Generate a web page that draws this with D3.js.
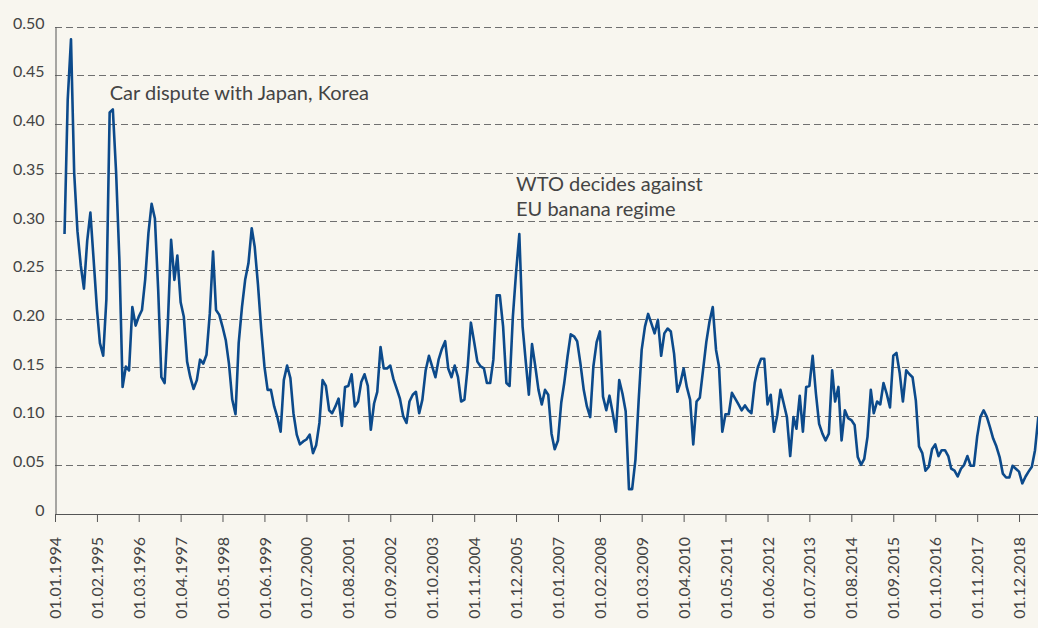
<!DOCTYPE html>
<meta charset="utf-8">
<script src="https://d3js.org/d3.v7.min.js"></script>
<style>
  body { margin: 0; background: #f8f6ef; }
  svg { display: block; font-family: Lato, "Open Sans", sans-serif; }
</style>
<div id="chart"></div>
<script>
// monthly values, first one is April 1994
const firstMonth = "01.04.1994";
const values = [
  0.287, 0.425, 0.487, 0.35, 0.29, 0.255, 0.231, 0.28, 0.309, 0.26, 0.21, 0.175,
  0.162, 0.22, 0.412, 0.415, 0.35, 0.26, 0.13, 0.151, 0.147, 0.212, 0.193, 0.202,
  0.209, 0.24, 0.288, 0.318, 0.303, 0.23, 0.14, 0.134, 0.195, 0.281, 0.24, 0.265,
  0.217, 0.202, 0.156, 0.14, 0.128, 0.137, 0.158, 0.154, 0.163, 0.205, 0.269, 0.209,
  0.204, 0.192, 0.178, 0.154, 0.117, 0.102, 0.175, 0.212, 0.24, 0.257, 0.293, 0.274,
  0.235, 0.19, 0.151, 0.127, 0.127, 0.11, 0.099, 0.084, 0.137, 0.152, 0.139, 0.103,
  0.081, 0.071, 0.074, 0.076, 0.081, 0.062, 0.07, 0.093, 0.137, 0.131, 0.106, 0.103,
  0.11, 0.118, 0.09, 0.13, 0.131, 0.143, 0.11, 0.115, 0.135, 0.143, 0.131, 0.086,
  0.113, 0.125, 0.171, 0.149, 0.149, 0.152, 0.138, 0.128, 0.118, 0.1, 0.093, 0.115,
  0.122, 0.125, 0.103, 0.117, 0.147, 0.162, 0.151, 0.14, 0.158, 0.169, 0.177, 0.149,
  0.14, 0.152, 0.14, 0.115, 0.117, 0.151, 0.196, 0.176, 0.156, 0.151, 0.149, 0.134,
  0.134, 0.158, 0.224, 0.224, 0.192, 0.134, 0.131, 0.202, 0.247, 0.287, 0.192, 0.158,
  0.122, 0.174, 0.151, 0.127, 0.112, 0.127, 0.122, 0.082, 0.066, 0.075, 0.114, 0.134,
  0.161, 0.184, 0.182, 0.177, 0.154, 0.127, 0.11, 0.099, 0.151, 0.176, 0.187, 0.12,
  0.106, 0.121, 0.103, 0.084, 0.137, 0.123, 0.105, 0.025, 0.025, 0.055, 0.117, 0.168,
  0.192, 0.205, 0.195, 0.185, 0.199, 0.162, 0.185, 0.19, 0.187, 0.164, 0.125, 0.134,
  0.149, 0.13, 0.117, 0.071, 0.115, 0.119, 0.147, 0.176, 0.197, 0.212, 0.168, 0.151,
  0.084, 0.102, 0.102, 0.124, 0.118, 0.112, 0.106, 0.111, 0.106, 0.103, 0.134, 0.15,
  0.159, 0.159, 0.112, 0.122, 0.084, 0.101, 0.127, 0.113, 0.099, 0.059, 0.099, 0.087,
  0.121, 0.084, 0.13, 0.131, 0.162, 0.123, 0.092, 0.082, 0.075, 0.082, 0.147, 0.115,
  0.13, 0.075, 0.106, 0.098, 0.096, 0.091, 0.058, 0.05, 0.056, 0.079, 0.127, 0.103,
  0.115, 0.112, 0.134, 0.123, 0.109, 0.162, 0.165, 0.144, 0.115, 0.147, 0.143, 0.14,
  0.116, 0.069, 0.062, 0.044, 0.048, 0.066, 0.071, 0.059, 0.065, 0.065, 0.059, 0.046,
  0.044, 0.038, 0.046, 0.05, 0.059, 0.049, 0.049, 0.079, 0.099, 0.106, 0.099, 0.089,
  0.077, 0.069, 0.058, 0.041, 0.037, 0.037, 0.049, 0.046, 0.043, 0.031, 0.038, 0.043,
  0.048, 0.065, 0.099
];

const yTicks = [0, 0.05, 0.1, 0.15, 0.2, 0.25, 0.3, 0.35, 0.4, 0.45, 0.5];
const xTickLabels = [
  "01.01.1994", "01.02.1995", "01.03.1996", "01.04.1997", "01.05.1998", "01.06.1999",
  "01.07.2000", "01.08.2001", "01.09.2002", "01.10.2003", "01.11.2004", "01.12.2005",
  "01.01.2007", "01.02.2008", "01.03.2009", "01.04.2010", "01.05.2011", "01.06.2012",
  "01.07.2013", "01.08.2014", "01.09.2015", "01.10.2016", "01.11.2017", "01.12.2018"
];
const noteTexts = [["Car dispute with Japan, Korea"], ["WTO decides against", "EU banana regime"]];
const noteDates = ["01.06.1995", "01.12.2005"];
const noteLevels = [0.4245, 0.331];

const width = 1038, height = 628;
const parse = d3.timeParse("%d.%m.%Y");
const fmt = d3.timeFormat("%d.%m.%Y");

const start = parse(firstMonth);
const data = values.map((v, i) => ({date: d3.timeMonth.offset(start, i), value: v}));

const x = d3.scaleTime()
    .domain([parse("01.01.1994"), parse("01.06.2019")])
    .range([55, 1038.3]);
const y = d3.scaleLinear()
    .domain([0, 0.5])
    .range([513.5, 26.7]);

const svg = d3.select("#chart")
    .append("svg")
    .attr("width", width)
    .attr("height", height)
    .style("background", "#f8f6ef");

// dashed grid
svg.append("g")
    .selectAll("line")
    .data(yTicks.filter(d => d > 0))
    .join("line")
    .attr("x1", 55)
    .attr("x2", width)
    .attr("y1", d => Math.round(y(d)) + 0.5)
    .attr("y2", d => Math.round(y(d)) + 0.5)
    .attr("stroke", "#707070")
    .attr("stroke-width", 1)
    .attr("stroke-dasharray", "7,4");

// y axis
const yAxis = svg.append("g")
    .attr("transform", "translate(55.5,0)")
    .call(d3.axisLeft(y)
        .tickValues(yTicks)
        .tickSize(0)
        .tickPadding(11)
        .tickFormat(d => d === 0 ? "0" : d.toFixed(2)));
yAxis.select(".domain").attr("stroke", "#555");
yAxis.selectAll("text")
    .attr("dy", "0.1em")
    .attr("fill", "#444")
    .style("font-size", "16px")
    .style("font-family", "Lato, sans-serif");

// x axis
const xAxis = svg.append("g")
    .attr("transform", "translate(0,514)")
    .call(d3.axisBottom(x)
        .tickValues(xTickLabels.map(parse))
        .tickSize(8)
        .tickSizeOuter(0)
        .tickFormat(fmt));
xAxis.select(".domain").attr("stroke", "#555");
xAxis.selectAll(".tick line").attr("stroke", "#555");
xAxis.selectAll("text")
    .attr("transform", "rotate(-90)")
    .attr("x", -23)
    .attr("y", 0)
    .attr("dy", "0.35em")
    .style("text-anchor", "end")
    .attr("fill", "#444")
    .style("font-size", "16px")
    .style("font-family", "Lato, sans-serif");

// the series
const line = d3.line()
    .x(d => x(d.date))
    .y(d => y(d.value));

svg.append("path")
    .datum(data)
    .attr("d", line)
    .attr("fill", "none")
    .attr("stroke", "#0c4a8b")
    .attr("stroke-width", 2.6)
    .attr("stroke-linejoin", "round");

// notes
noteTexts.forEach((lines, i) => {
    const t = svg.append("text")
        .attr("x", x(parse(noteDates[i])))
        .attr("y", y(noteLevels[i]))
        .attr("fill", "#444")
        .style("font-size", "20px")
        .style("font-family", "Lato, sans-serif");
    lines.forEach((s, j) => {
        t.append("tspan")
            .attr("x", x(parse(noteDates[i])))
            .attr("dy", j === 0 ? 0 : 25)
            .text(s);
    });
});
</script>
